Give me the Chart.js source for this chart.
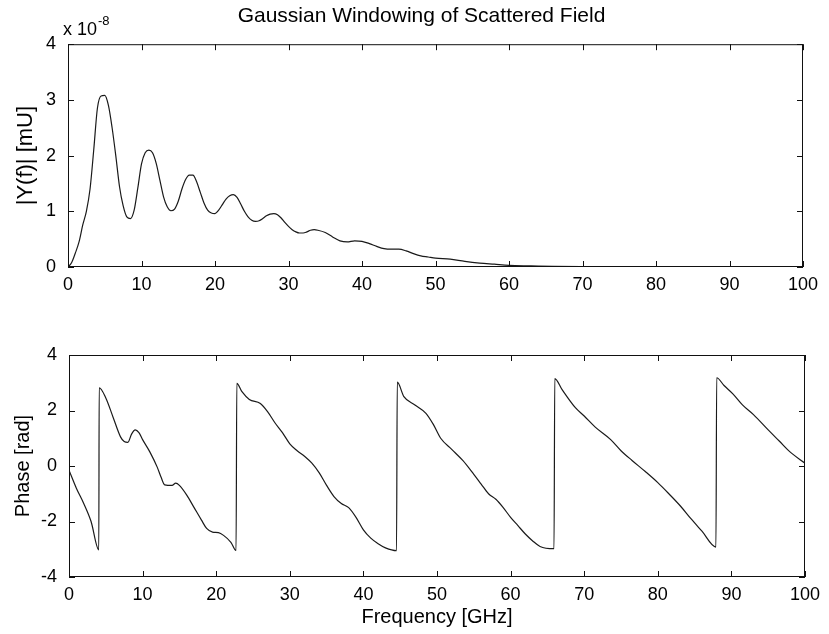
<!DOCTYPE html>
<html>
<head>
<meta charset="utf-8">
<script src="https://cdn.jsdelivr.net/npm/chart.js@4.4.1/dist/chart.umd.min.js"></script>
<style>
  html, body { margin: 0; padding: 0; background: #fff; }
  #wrap { position: relative; width: 829px; height: 634px; }
  canvas { position: absolute; left: 0; }
  #magCanvas { top: 0; }
  #phaseCanvas { top: 317px; }
</style>
</head>
<body>
<div id="wrap">
  <canvas id="magCanvas" width="829" height="317"></canvas>
  <canvas id="phaseCanvas" width="829" height="317"></canvas>
</div>
<script>
// ─── DATA ────────────────────────────────────────────────
// |Y(f)| in units of 1e-8 mU
const magFreq = [0, 0.5, 1, 1.5, 2, 2.5, 3, 3.5, 4, 4.5, 5, 5.5, 6, 6.5, 7, 7.5, 8, 8.5, 9, 9.5,
  10, 10.5, 11, 11.5, 12, 12.5, 13, 13.5, 14, 14.5, 15, 15.5, 16, 16.5, 17, 17.5, 18, 18.5, 19, 19.5,
  20, 20.5, 21, 21.5, 22, 22.5, 23, 23.5, 24, 24.5, 25, 25.5, 26, 26.5, 27, 27.5, 28, 28.5, 29, 29.5,
  30, 30.5, 31, 31.5, 32, 32.5, 33, 33.5, 34, 35, 36, 37, 38, 39, 40, 41, 42, 43, 44, 45,
  46, 47, 48, 49, 50, 52, 54, 56, 58, 60, 63, 66, 70, 80, 100];
const magValues = [0, 0.08, 0.25, 0.45, 0.75, 1.0, 1.4, 2.1, 2.85, 3.07, 3.08, 2.9, 2.5, 2.0, 1.45, 1.1, 0.9, 0.87, 1.02, 1.42,
  1.85, 2.05, 2.1, 2.05, 1.86, 1.56, 1.26, 1.08, 1.01, 1.04, 1.18, 1.4, 1.57, 1.65, 1.65, 1.53, 1.34, 1.15, 1.02, 0.97,
  0.96, 1.02, 1.12, 1.22, 1.28, 1.3, 1.25, 1.13, 1.0, 0.9, 0.84, 0.82, 0.83, 0.87, 0.92, 0.95, 0.96, 0.94, 0.88, 0.8,
  0.73, 0.67, 0.63, 0.61, 0.61, 0.63, 0.66, 0.67, 0.66, 0.62, 0.54, 0.47, 0.45, 0.47, 0.46, 0.42, 0.37, 0.33, 0.32, 0.32,
  0.29, 0.24, 0.2, 0.18, 0.16, 0.14, 0.1, 0.07, 0.05, 0.03, 0.02, 0.01, 0.005, 0.002, 0];

// unwrapped phase in rad, wraps at +-pi
const phaseFreq = [0, 1, 2, 3, 4.05, 4.1, 5, 6, 7, 7.5, 8, 8.5, 9, 9.5, 10, 11, 12, 12.5, 13, 14, 14.5, 15,
  16, 17, 18, 18.7, 19.5, 20.3, 21, 22, 22.7, 22.8, 23.5, 24.5, 26, 27, 28, 29, 30, 31, 32, 33, 34, 35,
  36, 37, 38, 39, 40, 41, 42, 43, 44.5, 44.6, 45.5, 47, 48.5, 49.5, 50.5, 52, 53.5, 55, 56, 57, 58, 59, 60,
  61, 62, 63, 64, 65.9, 66, 67, 68.8, 70, 71.5, 73.6, 75, 76.5, 78.3, 80, 81.5, 83.1, 84.5, 86, 87.9, 88,
  89, 90.2, 91.5, 93, 95, 96.5, 98, 100];
const phaseValues = [-0.15, -0.8, -1.35, -2.0, -3.02, 2.82, 2.45, 1.75, 1.05, 0.88, 0.85, 1.15, 1.3, 1.2, 0.95, 0.5, -0.05, -0.4, -0.68, -0.7, -0.62, -0.7,
  -1.05, -1.5, -1.95, -2.25, -2.38, -2.4, -2.5, -2.75, -3.05, 2.98, 2.68, 2.4, 2.25, 1.95, 1.55, 1.2, 0.8, 0.55, 0.35, 0.1, -0.25, -0.7,
  -1.1, -1.35, -1.5, -1.85, -2.3, -2.6, -2.8, -2.95, -3.05, 3.02, 2.5, 2.2, 1.9, 1.5, 1.0, 0.6, 0.2, -0.3, -0.65, -1.0, -1.2, -1.5, -1.85,
  -2.15, -2.45, -2.7, -2.9, -2.98, 3.15, 2.75, 2.1, 1.8, 1.4, 0.95, 0.55, 0.2, -0.2, -0.6, -1.0, -1.45, -1.9, -2.35, -2.92, 3.18,
  2.9, 2.6, 2.2, 1.85, 1.3, 0.9, 0.5, 0.1];

const freqTicks = [0, 10, 20, 30, 40, 50, 60, 70, 80, 90, 100];

const FONT = "'Liberation Sans', Arial, Helvetica, sans-serif";
const INK = '#000';
const PAD_LEFT = 40;   // shifts the figure title toward the axes centre

// ─── MATLAB STYLE BOX WITH INWARD TICKS ──────────────────
const boxFrame = {
  id: 'boxFrame',
  afterDatasetsDraw(chart) {
    const { ctx, chartArea: a, scales: { x, y } } = chart;
    const len = 6;
    ctx.save();
    ctx.strokeStyle = '#111';
    ctx.lineWidth = 1;
    ctx.strokeRect(a.left + 0.5, a.top + 0.5, a.right - a.left - 1, a.bottom - a.top - 1);
    ctx.beginPath();
    x.ticks.forEach((t, i) => {
      const px = Math.round(x.getPixelForTick(i)) + 0.5;
      ctx.moveTo(px, a.bottom); ctx.lineTo(px, a.bottom - len);
      ctx.moveTo(px, a.top);    ctx.lineTo(px, a.top + len);
    });
    y.ticks.forEach((t, i) => {
      const py = Math.round(y.getPixelForTick(i)) + 0.5;
      ctx.moveTo(a.left, py);  ctx.lineTo(a.left + len, py);
      ctx.moveTo(a.right, py); ctx.lineTo(a.right - len, py);
    });
    ctx.stroke();
    ctx.restore();
  }
};

// exponent label above the y axis
const exponentLabel = {
  id: 'exponentLabel',
  afterDraw(chart, args, opts) {
    if (!opts.text) return;
    const { ctx } = chart;
    ctx.save();
    ctx.fillStyle = INK;
    ctx.textBaseline = 'alphabetic';
    ctx.textAlign = 'left';
    ctx.font = '18px ' + FONT;
    ctx.fillText('x 10', opts.x, opts.y);
    const w = ctx.measureText('x 10').width;
    ctx.font = '13px ' + FONT;
    ctx.fillText(opts.text, opts.x + w + 1, opts.y - 10);
    ctx.restore();
  }
};

// ─── SUBPLOT ─────────────────────────────────────────────
function makeSubplot(canvasId, opts) {
  const ctx = document.getElementById(canvasId).getContext('2d');
  const titleLine = opts.yTitleSize * 1.2;
  return new Chart(ctx, {
    type: 'line',
    data: {
      datasets: [{
        data: opts.xs.map((f, i) => ({ x: f, y: opts.ys[i] })),
        borderColor: '#1a1a1a',
        borderWidth: 1.2,
        pointRadius: 0,
        fill: false,
        cubicInterpolationMode: 'monotone'
      }]
    },
    plugins: [boxFrame, exponentLabel],
    options: {
      responsive: false,
      animation: false,
      layout: { padding: { left: PAD_LEFT, right: 829 - opts.right, top: opts.padTop, bottom: 0 } },
      plugins: {
        legend: { display: false },
        tooltip: { enabled: false },
        title: {
          display: !!opts.title,
          text: opts.title,
          color: INK,
          font: { family: FONT, size: 21, weight: 'normal' },
          padding: { top: 4, bottom: 15 }
        },
        exponentLabel: { text: opts.exponent, x: 63, y: 35 }
      },
      scales: {
        x: {
          type: 'linear',
          min: 0, max: 100,
          afterBuildTicks: s => { s.ticks = freqTicks.map(v => ({ value: v })); },
          afterFit: s => { s.height = opts.xHeight; },
          grid: { display: false, drawTicks: false },
          border: { display: false },
          ticks: { color: INK, padding: 7, maxRotation: 0, font: { family: FONT, size: 18 } },
          title: {
            display: !!opts.xTitle,
            text: opts.xTitle,
            color: INK,
            font: { family: FONT, size: 20 },
            padding: { top: 0, bottom: 5 }
          }
        },
        y: {
          min: opts.yTicks[0],
          max: opts.yTicks[opts.yTicks.length - 1],
          afterBuildTicks: s => { s.ticks = opts.yTicks.map(v => ({ value: v })); },
          afterFit: s => { s.width = opts.left - PAD_LEFT; },
          grid: { display: false, drawTicks: false },
          border: { display: false },
          ticks: { color: INK, padding: 12, font: { family: FONT, size: 18 } },
          title: {
            display: true,
            text: opts.yTitle,
            color: INK,
            font: { family: FONT, size: opts.yTitleSize },
            // centre of the rotated label sits at opts.titleX on the canvas
            padding: { top: opts.titleX - PAD_LEFT - titleLine / 2, bottom: 0 }
          }
        }
      }
    }
  });
}

makeSubplot('magCanvas', {
  xs: magFreq, ys: magValues,
  yTicks: [0, 1, 2, 3, 4],
  yTitle: '|Y(f)| [mU]', yTitleSize: 22, titleX: 26,
  title: 'Gaussian Windowing of Scattered Field',
  exponent: '-8',
  left: 68, right: 803, padTop: 0, xHeight: 50
});

makeSubplot('phaseCanvas', {
  xs: phaseFreq, ys: phaseValues,
  yTicks: [-4, -2, 0, 2, 4],
  yTitle: 'Phase [rad]', yTitleSize: 20, titleX: 23,
  xTitle: 'Frequency [GHz]',
  left: 69, right: 805, padTop: 38, xHeight: 57
});
</script>
</body>
</html>
